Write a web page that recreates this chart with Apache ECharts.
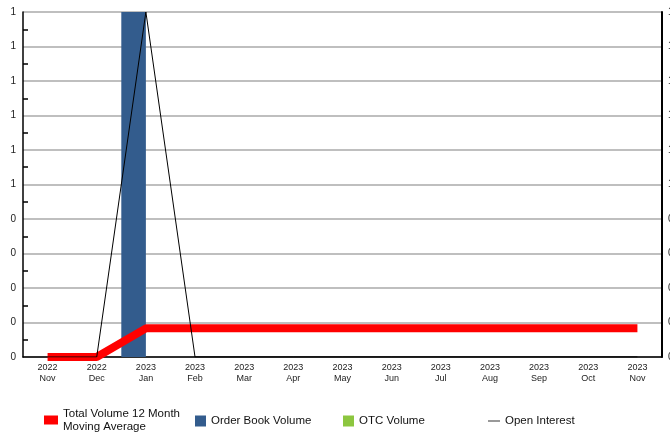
<!DOCTYPE html>
<html><head><meta charset="utf-8">
<script src="https://cdn.jsdelivr.net/npm/echarts@6/dist/echarts.min.js"></script>
<style>html,body{margin:0;padding:0;background:#fff}#c{width:670px;height:435px}</style>
</head><body><div id="c"></div>
<script>
const categories = ['2022\nNov','2022\nDec','2023\nJan','2023\nFeb','2023\nMar','2023\nApr','2023\nMay','2023\nJun','2023\nJul','2023\nAug','2023\nSep','2023\nOct','2023\nNov'];
const movingAverage = [0,0,0.083,0.083,0.083,0.083,0.083,0.083,0.083,0.083,0.083,0.083,0.083];
const orderBookVolume = [0,0,1,0,0,0,0,0,0,0,0,0,0];
const otcVolume = [0,0,0,0,0,0,0,0,0,0,0,0,0];
const openInterest = [0,0,1,0,0,0,0,0,0,0,0,0,0];

const font = 'Liberation Sans, Arial, sans-serif';
const midTicks = [];
for (let i = 0; i < 10; i++) midTicks.push(+(i * 0.1 + 0.05).toFixed(2));
const chart = echarts.init(document.getElementById('c'), null, {renderer:'canvas'});
const legendText = {fontFamily:font, fontSize:11.5, color:'#111'};
chart.setOption({
  animation:false,
  backgroundColor:'#fff',
  grid:{left:23,right:8,top:12,bottom:78,containLabel:false,outerBoundsMode:'none'},
  legend:[
    {left:44,top:407,padding:0,itemWidth:14,itemHeight:9,icon:'rect',textStyle:Object.assign({lineHeight:13},legendText),data:[{name:'Total Volume 12 Month Moving Average',itemStyle:{color:'#ff0000'}}],formatter:()=> 'Total Volume 12 Month\nMoving Average'},
    {left:195,top:415,padding:0,itemWidth:11,itemHeight:11,icon:'rect',textStyle:legendText,data:['Order Book Volume']},
    {left:343,top:415,padding:0,itemWidth:11,itemHeight:11,icon:'rect',textStyle:legendText,data:['OTC Volume']},
    {left:488,top:415,padding:0,itemWidth:12,itemHeight:1,icon:'rect',textStyle:legendText,data:[{name:'Open Interest',itemStyle:{color:'#333'}}]}
  ],
  xAxis:{type:'category',data:categories,
    axisLine:{lineStyle:{color:'#000',width:1.5}},
    axisTick:{show:false},
    axisLabel:{fontFamily:font,fontSize:9,color:'#222',lineHeight:11,margin:5}},
  yAxis:[
    {type:'value',min:0,max:1,interval:0.1,
      axisLine:{show:true,lineStyle:{color:'#000',width:1.5}},
      axisTick:{show:false},
      splitLine:{lineStyle:{color:'#aaa',width:1.5}},
      axisLabel:{fontFamily:font,fontSize:10,color:'#222',margin:7,formatter:v=>Math.round(v).toString()}},
    {type:'value',min:0,max:1,interval:0.1,position:'right',
      axisLine:{show:true,lineStyle:{color:'#000',width:2}},
      axisTick:{show:false},
      splitLine:{show:false},
      axisLabel:{fontFamily:font,fontSize:10,color:'#222',margin:6,formatter:v=>Math.round(v).toString()}},
    {type:'value',min:0,max:1,position:'left',
      axisLine:{show:false},
      axisTick:{show:true,inside:true,length:5,customValues:midTicks,lineStyle:{color:'#000',width:1.5}},
      splitLine:{show:false},
      axisLabel:{show:false}}
  ],
  series:[
    {name:'Order Book Volume',type:'bar',data:orderBookVolume,itemStyle:{color:'#335c8d'},barGap:'0%',barCategoryGap:'0%'},
    {name:'OTC Volume',type:'bar',data:otcVolume,itemStyle:{color:'#8cc63f'}},
    {name:'Total Volume 12 Month Moving Average',type:'line',data:movingAverage,symbol:'none',lineStyle:{color:'#ff0000',width:8,cap:'butt'},itemStyle:{color:'#ff0000'},z:5},
    {name:'Open Interest',type:'line',yAxisIndex:1,data:openInterest,symbol:'none',lineStyle:{color:'#000',width:1},itemStyle:{color:'#333'},z:6}
  ]
});
</script></body></html>
